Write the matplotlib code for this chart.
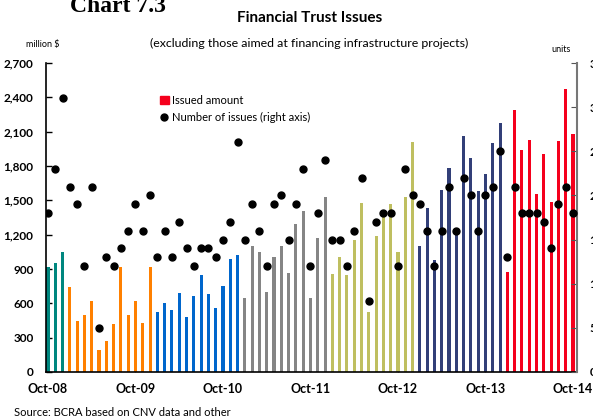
import matplotlib.pyplot as plt
from matplotlib.patches import Patch
from matplotlib.lines import Line2D
import numpy as np

# datos mensuales Oct-08 a Oct-14 (millones de $)
teal_08 = [920, 955, 1052]
orange_09 = [745, 447, 500, 622, 193, 272, 421, 920, 500, 622, 430, 920]
blue_10 = [526, 605, 543, 693, 482, 666, 850, 684, 561, 754, 990, 1026]
gray_11 = [649, 1105, 1052, 701, 1008, 1105, 868, 1289, 1411, 649, 1175, 1525]
olive_12 = [859, 1008, 850, 1157, 1473, 526, 1192, 1385, 1464, 1052, 1525, 2007]
navy_13 = [1101, 1433, 979, 1591, 1783, 1250, 2063, 1871, 1582, 1731, 2002, 2177]
red_14 = [874, 2290, 1941, 2028, 1556, 1906, 1486, 2019, 2474, 2080]

# cantidad de emisiones (eje derecho)
issues = [18, 23, 31, 21, 19, 12, 21, 5, 13, 12, 14, 16,
          19, 16, 20, 13, 16, 13, 17, 14, 12, 14, 14, 13,
          15, 17, 26, 15, 19, 16, 12, 19, 20, 15, 19, 23,
          12, 18, 24, 15, 15, 12, 16, 22, 8, 17, 18, 18,
          12, 23, 20, 19, 16, 12, 16, 21, 16, 22, 20, 16,
          20, 21, 25, 13, 21, 18, 18, 18, 17, 14, 19, 21, 18]

tick_labels = ["Oct-08", "Oct-09", "Oct-10", "Oct-11", "Oct-12", "Oct-13", "Oct-14"]

segmentos = [(teal_08, "#00877f"), (orange_09, "#ff8000"), (blue_10, "#0066cc"),
             (gray_11, "#858585"), (olive_12, "#bfbf60"), (navy_13, "#323f78"),
             (red_14, "#f5001c")]

fuente = "Lato"

fig = plt.figure(figsize=(5.93, 4.18), dpi=100)
ax = fig.add_axes([46 / 593, 46 / 418, 531 / 593, 309 / 418])

inicio = 0
for valores, color in segmentos:
    x = np.arange(inicio, inicio + len(valores))
    ax.bar(x, valores, width=0.42, color=color, zorder=2)
    inicio += len(valores)

ax.set_xlim(-0.27, 72.55)
ax.set_ylim(0, 2700)
ax.set_yticks(range(0, 2701, 300))
ax.set_yticklabels([f"{v:,}" for v in range(0, 2701, 300)],
                   fontsize=8.5, fontweight="bold", family=fuente)
ax.set_xticks(range(0, 73, 12))
ax.set_xticklabels(tick_labels, fontsize=9, fontweight="bold", family=fuente)
ax.tick_params(axis="y", direction="in", length=4, pad=9, width=1)
ax.tick_params(axis="x", direction="in", length=3, pad=8, color="#777777")
ax.spines["top"].set_visible(False)
ax.spines["right"].set_visible(False)
ax.spines["left"].set_linewidth(1.2)
ax.spines["bottom"].set_linewidth(1.2)

ax2 = ax.twinx()
ax2.plot(np.arange(len(issues)), issues, "o", color="black", ms=5, zorder=3)
ax2.set_ylim(0, 35)
ax2.set_yticks(range(0, 36, 5))
# etiquetas cortadas en el borde, igual que el original
ax2.set_yticklabels([str(v) for v in range(0, 36, 5)],
                    fontsize=8.5, fontweight="bold", family=fuente)
ax2.tick_params(axis="y", direction="in", length=4, pad=9, color="#555555")
ax2.spines["top"].set_visible(False)
ax2.spines["left"].set_visible(False)
ax2.spines["bottom"].set_visible(False)
ax2.spines["right"].set_color("#777777")
ax2.spines["right"].set_linewidth(1.5)

handles = [Patch(color="#f5001c"),
           Line2D([], [], marker="o", color="black", ls="", ms=5)]
ax2.legend(handles, ["Issued amount", "Number of issues (right axis)"],
           loc="upper left", bbox_to_anchor=(150 / 593, 1 - 85 / 418),
           bbox_transform=fig.transFigure, frameon=False,
           prop={"family": fuente, "size": 8}, handlelength=0.8,
           handletextpad=0.3, labelspacing=0.5)

# titulos y textos
fig.text(70 / 593, 1 - 12 / 418, "Chart 7.3", family="Liberation Serif",
         fontweight="bold", fontsize=17, va="baseline")
fig.text(310 / 593, 1 - 22 / 418, "Financial Trust Issues", family=fuente,
         fontweight="bold", fontsize=11, ha="center", va="baseline")
fig.text(309 / 593, 1 - 47 / 418,
         "(excluding those aimed at financing infrastructure projects)",
         family=fuente, fontsize=8.9, ha="center", va="baseline")
fig.text(43 / 593, 1 - 47 / 418, "million $", family=fuente, fontsize=6.5,
         ha="center", va="baseline")
fig.text(561 / 593, 1 - 52 / 418, "units", family=fuente, fontsize=6.5,
         ha="center", va="baseline")
fig.text(14 / 593, 2 / 418, "Source: BCRA based on CNV data and other",
         family=fuente, fontsize=8, va="baseline")

fig.savefig("out.png", dpi=100)
